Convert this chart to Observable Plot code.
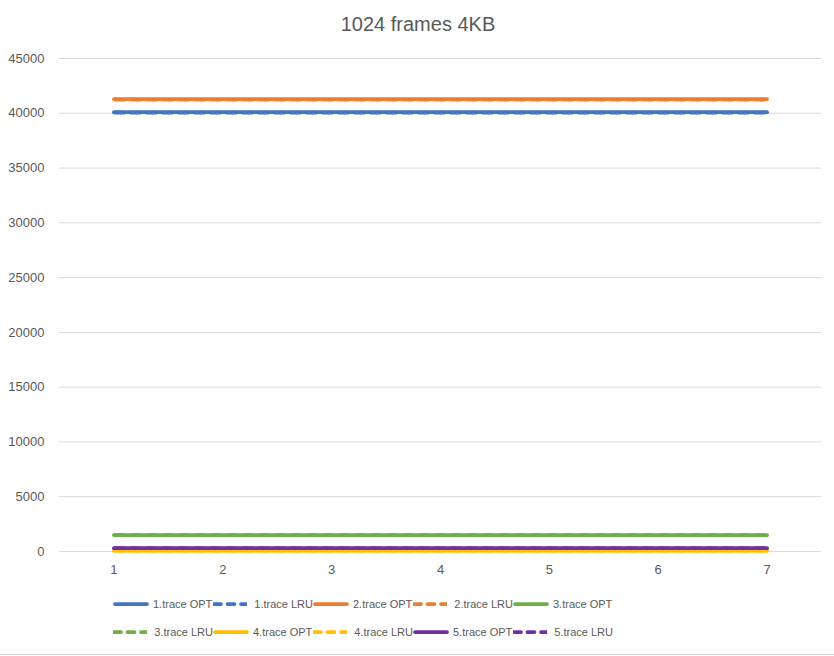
<!DOCTYPE html>
<html>
<head>
<meta charset="utf-8">
<script src="https://cdn.jsdelivr.net/npm/d3@7"></script>
<script src="https://cdn.jsdelivr.net/npm/@observablehq/plot@0.6"></script>
<style>
  html, body { margin: 0; padding: 0; background: #fff; }
  body { width: 834px; height: 656px; overflow: hidden; font-family: "Liberation Sans", Arial, sans-serif; color: #595959; position: relative; }
  #title { height: 45px; line-height: 48px; text-align: center; font-size: 20px; color: #595959; padding-left: 2px; box-sizing: border-box; }
  #chart svg { display: block; }
  #legend { padding-left: 113px; }
  .row { height: 28px; display: flex; align-items: center; }
  .item { width: 100px; display: flex; align-items: center; font-size: 11px; color: #595959; white-space: nowrap; }
  .item svg { display: block; margin-right: 4px; }
  #sheet { position: absolute; left: 0; right: 0; top: 654px; border-top: 1px solid #d4d4d4; }
</style>
</head>
<body>
<div id="title">1024 frames 4KB</div>
<div id="chart"></div>
<div id="legend"></div>
<div id="sheet"></div>
<script>
// ---- data ----
const runs = [1, 2, 3, 4, 5, 6, 7];
const seriesNames = ["1.trace OPT", "1.trace LRU", "2.trace OPT", "2.trace LRU", "3.trace OPT",
                     "3.trace LRU", "4.trace OPT", "4.trace LRU", "5.trace OPT", "5.trace LRU"];
const trace1OPT = [40100, 40100, 40100, 40100, 40100, 40100, 40100];
const trace1LRU = [40050, 40050, 40050, 40050, 40050, 40050, 40050];
const trace2OPT = [41300, 41300, 41300, 41300, 41300, 41300, 41300];
const trace2LRU = [41250, 41250, 41250, 41250, 41250, 41250, 41250];
const trace3OPT = [1500, 1500, 1500, 1500, 1500, 1500, 1500];
const trace3LRU = [1500, 1500, 1500, 1500, 1500, 1500, 1500];
const trace4OPT = [80, 80, 80, 80, 80, 80, 80];
const trace4LRU = [80, 80, 80, 80, 80, 80, 80];
const trace5OPT = [300, 300, 300, 300, 300, 300, 300];
const trace5LRU = [300, 300, 300, 300, 300, 300, 300];
const yTicks = [0, 5000, 10000, 15000, 20000, 25000, 30000, 35000, 40000, 45000];

const seriesValues = [trace1OPT, trace1LRU, trace2OPT, trace2LRU, trace3OPT,
                      trace3LRU, trace4OPT, trace4LRU, trace5OPT, trace5LRU];
const colors = ["#4472C4", "#4472C4", "#ED7D31", "#ED7D31", "#70AD47",
                "#70AD47", "#FFC000", "#FFC000", "#7030A0", "#7030A0"];
const dashed = seriesNames.map(n => n.endsWith("LRU"));

const rows = [];
seriesNames.forEach((name, i) => {
  seriesValues[i].forEach((v, j) => rows.push({series: name, run: runs[j], value: v}));
});

const lineMarks = seriesNames.map((name, i) =>
  Plot.line(rows.filter(d => d.series === name), {
    x: "run", y: "value",
    stroke: colors[i],
    strokeWidth: 3.75,
    strokeLinecap: dashed[i] ? "butt" : "round",
    strokeDasharray: dashed[i] ? "11,5" : null
  })
);

const plot = Plot.plot({
  width: 834,
  height: 545,
  marginTop: 13,
  marginBottom: 39,
  marginLeft: 59,
  marginRight: 13,
  style: {fontFamily: "'Liberation Sans', Arial, sans-serif", fontSize: "13px", color: "#595959", background: "#fff"},
  x: {type: "point", domain: runs, padding: 0.5, round: false, label: null},
  y: {domain: [0, 45000], label: null},
  marks: [
    Plot.gridY(yTicks, {stroke: "#d9d9d9", strokeOpacity: 1, strokeWidth: 1}),
    Plot.axisY(yTicks, {tickSize: 0, tickPadding: 15, tickFormat: d => String(d), fill: "#595959", fontSize: 13, label: null}),
    Plot.axisX(runs, {tickSize: 0, tickPadding: 13, fill: "#595959", fontSize: 13, label: null}),
    ...lineMarks
  ]
});
document.getElementById("chart").appendChild(plot);

// ---- legend ----
const legend = document.getElementById("legend");
const perRow = 5;
for (let r = 0; r < Math.ceil(seriesNames.length / perRow); r++) {
  const row = document.createElement("div");
  row.className = "row";
  seriesNames.slice(r * perRow, r * perRow + perRow).forEach((name, k) => {
    const i = r * perRow + k;
    const item = document.createElement("div");
    item.className = "item";
    const ns = "http://www.w3.org/2000/svg";
    const s = document.createElementNS(ns, "svg");
    s.setAttribute("width", 36);
    s.setAttribute("height", 8);
    const ln = document.createElementNS(ns, "line");
    ln.setAttribute("x1", dashed[i] ? 1 : 2);
    ln.setAttribute("x2", 34);
    ln.setAttribute("y1", 4);
    ln.setAttribute("y2", 4);
    ln.setAttribute("stroke", colors[i]);
    ln.setAttribute("stroke-width", 3.75);
    ln.setAttribute("stroke-linecap", "round");
    if (dashed[i]) ln.setAttribute("stroke-dasharray", "7,6.5");
    s.appendChild(ln);
    item.appendChild(s);
    const t = document.createElement("span");
    t.textContent = name;
    if (dashed[i]) t.style.marginLeft = "3px";
    item.appendChild(t);
    row.appendChild(item);
  });
  legend.appendChild(row);
}
</script>
</body>
</html>
